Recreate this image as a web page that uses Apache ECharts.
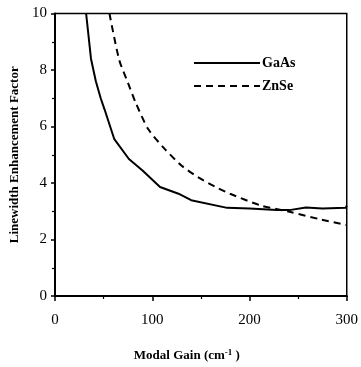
<!DOCTYPE html>
<html><head><meta charset="utf-8">
<script src="https://cdn.jsdelivr.net/npm/echarts@6/dist/echarts.min.js"></script>
<style>html,body{margin:0;padding:0;background:#fff}#c{width:361px;height:367px}</style>
</head><body><div id="c"></div>
<script>
const gaasX = [32, 37, 42, 47, 51, 61, 76, 90, 108, 127, 140, 177, 200, 228, 241, 258, 275, 299, 300];
const gaasY = [10, 8.4, 7.6, 7.0, 6.6, 5.55, 4.85, 4.44, 3.86, 3.62, 3.39, 3.12, 3.1, 3.04, 3.04, 3.13, 3.1, 3.12, 3.2];
const znseX = [56, 66, 75, 83, 96, 113, 130, 147, 165, 180, 211, 241, 272, 300];
const znseY = [10, 8.36, 7.55, 6.84, 5.9, 5.2, 4.62, 4.21, 3.86, 3.62, 3.21, 2.98, 2.72, 2.51];
const xTicks = [0, 100, 200, 300];
const yTicks = [0, 2, 4, 6, 8, 10];
const seriesNames = ['GaAs', 'ZnSe'];

const font = 'Liberation Serif';
const chart = echarts.init(document.getElementById('c'));
chart.setOption({
  animation: false,
  backgroundColor: '#fff',
  grid: {left: 55, right: 10, top: 13.5, bottom: 69, show: true, borderColor: '#000', borderWidth: 1.5},
  legend: {
    orient: 'vertical', left: 188, top: 51, itemWidth: 66, itemHeight: 14, itemGap: 9,
    data: seriesNames,
    itemStyle: {opacity: 0},
    textStyle: {fontFamily: font, fontWeight: 'bold', fontSize: 14, color: '#000', padding: [0,0,0,-3]}
  },
  xAxis: {
    type: 'value', min: xTicks[0], max: xTicks[xTicks.length-1], interval: 100,
    splitLine: {show: false},
    axisLine: {lineStyle: {color: '#000', width: 2}},
    axisTick: {length: 5, lineStyle: {width: 1.5}},
    minorTick: {show: true, splitNumber: 2, length: 3, lineStyle: {color: '#000', width: 1.2}},
    axisLabel: {fontFamily: font, fontSize: 15, color: '#000', margin: 17},
    name: '{a|Modal Gain (cm}{s|-1}{a| )}', nameLocation: 'middle', nameGap: 52,
    nameTextStyle: {padding: [0, 28, 0, 0],
                    rich: {a: {fontFamily: font, fontWeight: 'bold', fontSize: 13, color: '#000'},
                           s: {fontFamily: font, fontWeight: 'bold', fontSize: 9, color: '#000', verticalAlign: 'top', padding: [0,0,6,0]}}}
  },
  yAxis: {
    type: 'value', min: yTicks[0], max: yTicks[yTicks.length-1], interval: 2,
    splitLine: {show: false},
    axisLine: {lineStyle: {color: '#000', width: 2}},
    axisTick: {length: 4, lineStyle: {width: 1.5}},
    minorTick: {show: true, splitNumber: 2, length: 3, lineStyle: {color: '#000', width: 1.2}},
    axisLabel: {fontFamily: font, fontSize: 15, color: '#000', margin: 8},
    name: 'Linewidth Enhancement Factor', nameLocation: 'middle', nameGap: 30,
    nameTextStyle: {fontFamily: font, fontWeight: 'bold', fontSize: 13, color: '#000'}
  },
  series: [
    {name: seriesNames[0], type: 'line', symbol: 'none', data: gaasX.map((x,i)=>[x,gaasY[i]]),
     lineStyle: {color: '#000', width: 2}, itemStyle: {color: '#000'}},
    {name: seriesNames[1], type: 'line', symbol: 'none', data: znseX.map((x,i)=>[x,znseY[i]]),
     smooth: 0.25,
     lineStyle: {color: '#000', width: 2, type: [7,5]}, itemStyle: {color: '#000'}}
  ]
});
</script></body></html>
